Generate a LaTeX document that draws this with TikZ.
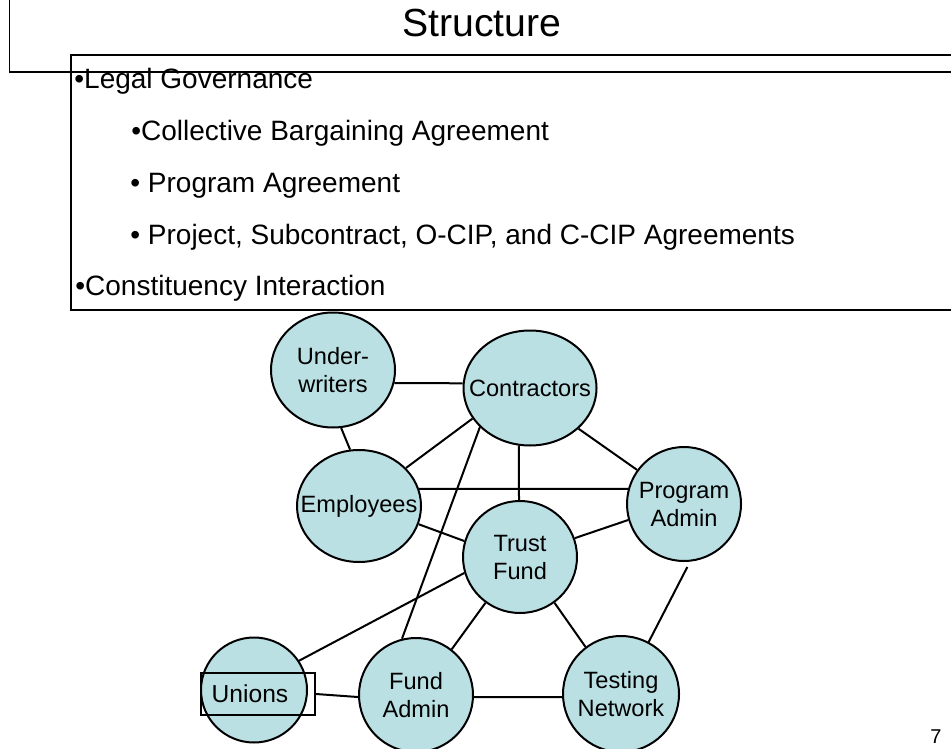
\documentclass[tikz,border=0pt]{standalone}
\usepackage{fontspec}
\setmainfont{Liberation Sans}
\usetikzlibrary{shapes.geometric}

\definecolor{partyfill}{HTML}{BBE0E3}
\newcommand{\nowidth}[1]{\makebox[0pt]{#1}}

\tikzstyle{party} = [ellipse, draw, fill=partyfill, line width=1pt,
  inner sep=0pt, minimum width=57pt, minimum height=57pt,
  align=center, font=\fontsize{11.8}{14}\selectfont]
\tikzstyle{link} = [line width=1pt]
\tikzstyle{bullet} = [anchor=base west, inner sep=0pt,
  font=\fontsize{14}{17}\selectfont]

\begin{document}
\begin{tikzpicture}[x=0.5pt, y=-0.5pt]
  \useasboundingbox (0, 0) rectangle (951, 748);

  % title and rule
  \path (482, 37) node[anchor=base, inner sep=0pt, font=\fontsize{19.6}{23}\selectfont] (title) {Structure};
  \draw[line width=0.5pt] (9, 0) -- (9, 72);
  \draw[line width=1pt] (9, 72) -- (960, 72);

  % text box
  \draw[line width=1pt] (71, 55) rectangle (960, 310);
  \path (74, 89) node[bullet] (legal) {•Legal Governance};
  \path (131, 141) node[bullet] (cba) {•Collective Bargaining Agreement};
  \path (130, 193) node[bullet] (prag) {• Program Agreement};
  \path (130, 245) node[bullet] (proj) {• Project, Subcontract, O-CIP, and C-CIP Agreements};
  \path (75, 295) node[bullet] (const) {•Constituency Interaction};

  % parties
  \path (333, 370) node[party, minimum width=62pt, minimum height=57.5pt] (uw) {\nowidth{Under-}\\\nowidth{writers}};
  \path (530, 388) node[party, minimum width=66.5pt, minimum height=57.5pt] (contr) {\nowidth{Contractors}};
  \path (359, 506) node[party, minimum width=62pt, minimum height=56pt] (emp) {\nowidth{Employees}};
  \path (684, 504) node[party] (prog) {\nowidth{Program}\\\nowidth{Admin}};
  \path (520, 557) node[party, minimum height=56pt] (trust) {\nowidth{Trust}\\\nowidth{Fund}};
  \path (254, 690) node[party, minimum width=53pt, minimum height=52.5pt] (unions) {};
  \path (416, 695) node[party] (fund) {\nowidth{Fund}\\\nowidth{Admin}};
  \path (621, 694) node[party, minimum width=58pt, minimum height=58pt] (test) {\nowidth{Testing}\\\nowidth{Network}};
  \path (258, 694) node[draw, line width=1pt, inner sep=0pt, minimum width=57pt, minimum height=21pt,
    font=\fontsize{12.3}{14}\selectfont] (ubox) {Unions\kern8pt};

  % links
  \foreach \a/\b in {uw.348/contr.176, uw.278/emp.99, contr.208/emp.39,
    contr.218/fund.104, contr.259/trust.91, contr.320/prog.144,
    emp.16/prog.165, emp.343/trust.164, trust.19/prog.196,
    trust.196/unions.33, trust.233/fund.52, trust.307/test.127,
    ubox.east/fund.182, fund.358/test.183} {
    \draw[link] (\a) -- (\b);
  }
  \draw[link, shorten <=3pt] (prog.276) -- (test.62);

  % page number
  \path (942, 743) node[anchor=base east, inner sep=0pt, font=\fontsize{10}{12}\selectfont] (pgno) {7};
\end{tikzpicture}
\end{document}
